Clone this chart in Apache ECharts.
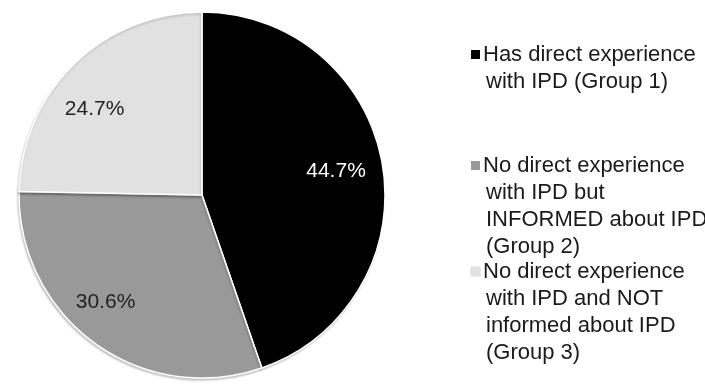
<!DOCTYPE html>
<html>
<head>
<meta charset="utf-8">
<script src="https://cdn.jsdelivr.net/npm/echarts@6/dist/echarts.min.js"></script>
<style>
  html, body { margin: 0; padding: 0; background: #fff; }
  #chart { width: 705px; height: 385px; }
</style>
</head>
<body>
<div id="chart"></div>
<script>
// Survey groups and their shares (percent)
const groups = [
  'Has direct experience\nwith IPD (Group 1)',
  'No direct experience\nwith IPD but\nINFORMED about IPD\n(Group 2)',
  'No direct experience\nwith IPD and NOT\ninformed about IPD\n(Group 3)'
];
const shares = [44.7, 30.6, 24.7];

// Styling
const sliceColors = ['#000000', '#999999', '#e1e1e1'];
const labelColors = ['#ffffff', '#222222', '#222222'];
const labelNudge = [[-6, 0], [-13, -8], [-8, 16]];
const legendTops = [36, 147, 253];

const FONT = '"Liberation Sans", Arial, sans-serif';
const CX = 202, CY = 195, R = 183;

const chart = echarts.init(document.getElementById('chart'), null, { renderer: 'canvas' });

const pieData = groups.map((g, i) => ({
  name: g,
  value: shares[i],
  itemStyle: { color: sliceColors[i] }
}));

// Rich-text legend entry: a small swatch on the first line, following lines indented
function legendText(name) {
  const i = groups.indexOf(name);
  return name.split('\n')
    .map((l, k) => (k === 0 ? '{sq' + i + '|}{g|}' : '{sp|}') + '{t|' + l + '}')
    .join('\n');
}
const rich = {
  t: { fontFamily: FONT, fontSize: 22, color: '#1a1a1a', lineHeight: 27 },
  g: { width: 3 },
  sp: { width: 15 }
};
sliceColors.forEach((c, i) => {
  rich['sq' + i] = {
    width: 9, height: 9, backgroundColor: c,
    borderColor: i === 2 ? '#d4d4d4' : c, borderWidth: i === 2 ? 0.5 : 0
  };
});

const option = {
  backgroundColor: '#ffffff',
  animation: false,
  legend: groups.map((g, i) => ({
    data: [g],
    orient: 'vertical',
    left: 461,
    top: legendTops[i],
    icon: 'none',
    itemWidth: 0,
    itemHeight: 10,
    selectedMode: false,
    formatter: legendText,
    textStyle: { rich: rich, fontFamily: FONT, fontSize: 22, lineHeight: 27, color: '#1a1a1a' }
  })),
  series: [
    {
      type: 'pie',
      center: [CX, CY],
      radius: [0, R],
      startAngle: 90,
      clockwise: true,
      silent: true,
      data: pieData,
      itemStyle: {
        borderColor: '#ffffff', borderWidth: 1.5,
        shadowColor: 'rgba(0,0,0,0.18)', shadowBlur: 2, shadowOffsetX: -1, shadowOffsetY: 2
      },
      label: { show: false },
      labelLine: { show: false }
    },
    {
      // transparent ring that carries the percentage labels at ~3/4 radius
      type: 'pie',
      center: [CX, CY],
      radius: [95, R],
      startAngle: 90,
      clockwise: true,
      silent: true,
      legendHoverLink: false,
      data: groups.map((g, i) => ({
        name: g,
        value: shares[i],
        itemStyle: { color: 'rgba(0,0,0,0)' },
        label: { color: labelColors[i], offset: labelNudge[i] }
      })),
      label: {
        show: true,
        position: 'inside',
        fontFamily: FONT,
        fontSize: 21,
        formatter: p => p.value.toFixed(1) + '%'
      },
      labelLine: { show: false }
    }
  ]
};
chart.setOption(option);
</script>
</body>
</html>
